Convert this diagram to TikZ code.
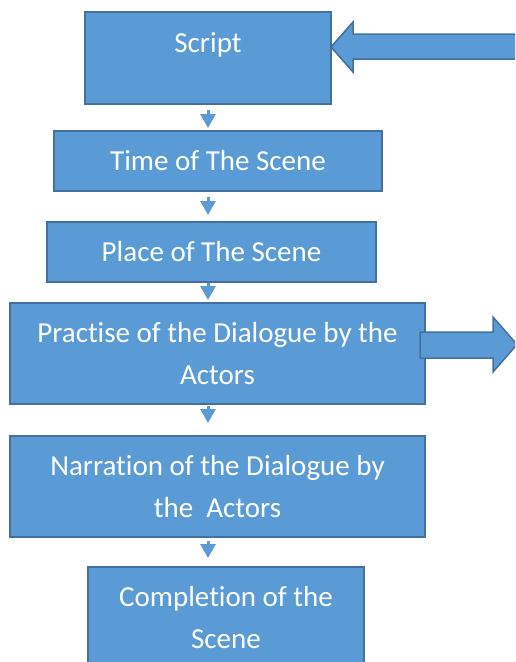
\documentclass[tikz,border=0pt]{standalone}
\usepackage{fontspec}
\setmainfont{Carlito}[RawFeature={-liga;-clig;-calt;-dlig}]
\usepackage{tikz}
\usetikzlibrary{arrows.meta,calc,positioning}
\definecolor{boxblue}{HTML}{5B9BD5}
\definecolor{boxline}{HTML}{41719C}
\tikzset{
stagetext/.style={text=white,align=center,font=\fontsize{29pt}{42pt}\selectfont},
stagebox/.style={stagetext,draw=boxline,fill=boxblue,line width=1.5pt,inner sep=0pt,outer sep=0pt},
smallarrow/.style={draw=boxblue,line width=3pt,-{Triangle[width=15pt,length=14pt]}},
bigarrow/.style={draw=boxline,fill=boxblue,line width=1.5pt,line join=miter}
}

\begin{document}
\begin{tikzpicture}[x=1pt,y=-1pt]
\useasboundingbox (0,0) rectangle (515,662);
\clip (0,0) rectangle (515,662);
\coordinate (axis) at (208,0);
\node[stagebox,minimum width=246pt,minimum height=92pt] (script) at (208,58) {};
\node[stagetext,anchor=base] (scriptlabel) at (208,52) {Script};
\node[stagebox,minimum width=328pt,minimum height=60pt] (time) at (218,161) {Time of The Scene};
\node[stagebox,minimum width=329pt,minimum height=60pt] (place) at (211.5,252) {Place of The Scene};
\node[stagebox,minimum width=415pt,minimum height=101pt] (practise) at (217.5,353.5) {Practise of the Dialogue by the\\Actors};
\node[stagebox,minimum width=415pt,minimum height=101pt] (narration) at (217.5,486.5) {Narration of the Dialogue by\\the\ \ Actors};
\node[stagebox,minimum width=276pt,minimum height=101pt] (completion) at (226,617.5) {Completion of the\\Scene};
\draw[smallarrow,shorten <=6pt,shorten >=3pt] (script.south -| axis) -- (time.north -| axis);
\draw[smallarrow,shorten <=6pt,shorten >=7pt] (time.south -| axis) -- (place.north -| axis);
\draw[smallarrow,shorten <=1pt,shorten >=3pt] (place.south -| axis) -- (practise.north -| axis);
\draw[smallarrow,shorten <=2pt,shorten >=13pt] (practise.south -| axis) -- (narration.north -| axis);
\draw[smallarrow,shorten <=4pt,shorten >=9pt] (narration.south -| axis) -- (completion.north -| axis);
\draw[bigarrow] ([yshift=11pt]script.east) -- ++(22,-25) -- ++(0,12) -- ++(170,0) -- ++(0,25) -- ++(-170,0) -- ++(0,13) -- cycle;
\draw[bigarrow] ([xshift=-5pt,yshift=21.5pt]practise.east) -- ++(73,0) -- ++(0,-15) -- ++(24,27.5) -- ++(-24,27.5) -- ++(0,-14) -- ++(-73,0) -- cycle;
\end{tikzpicture}
\end{document}
